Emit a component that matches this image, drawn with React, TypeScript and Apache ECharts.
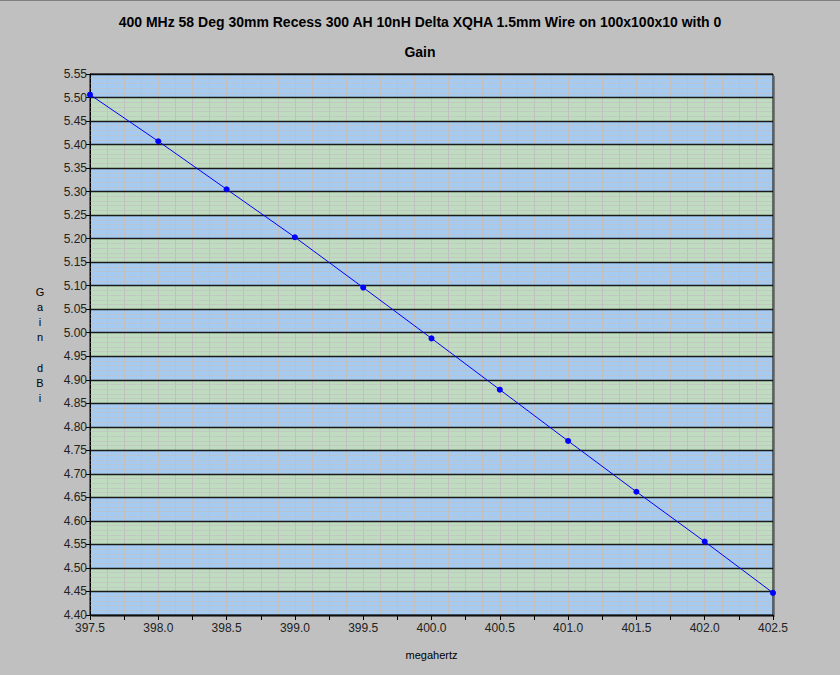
import React, { useEffect, useRef } from "react";
import * as echarts from "echarts";

const TITLE_LINE_1 = "400 MHz 58 Deg 30mm Recess 300 AH 10nH Delta XQHA 1.5mm Wire on 100x100x10 with 0";
const TITLE_LINE_2 = "Gain";
const X_NAME = "megahertz";
const Y_NAME = "G\na\ni\nn\n\nd\nB\ni";

const frequencies = [397.5, 398.0, 398.5, 399.0, 399.5, 400.0, 400.5, 401.0, 401.5, 402.0, 402.5];
const gainValues = [5.506, 5.407, 5.305, 5.203, 5.096, 4.988, 4.879, 4.770, 4.662, 4.556, 4.447];

const X_MIN = 397.5;
const X_MAX = 402.5;
const Y_MIN = 4.4;
const Y_MAX = 5.55;
const Y_STEP = 0.05;
const X_STEP = 0.25;

const FONT = "'Liberation Sans', Arial, sans-serif";

export default function App() {
  const ref = useRef<HTMLDivElement>(null);

  useEffect(() => {
    if (!ref.current) return;
    const chart = echarts.init(ref.current, undefined, { renderer: "svg" });
    const data = frequencies.map((f, i) => [f, gainValues[i]]);

    chart.setOption({
      animation: false,
      backgroundColor: "#c0c0c0",
      textStyle: { fontFamily: FONT },
      title: [
        {
          text: TITLE_LINE_1,
          left: "center",
          top: 10,
          textStyle: { fontSize: 14, fontWeight: "bold", color: "#000", fontFamily: FONT },
        },
        {
          text: TITLE_LINE_2,
          left: "center",
          top: 40,
          textStyle: { fontSize: 14, fontWeight: "bold", color: "#000", fontFamily: FONT },
        },
      ],
      grid: {
        left: 90,
        top: 74,
        right: 67,
        bottom: 60,
        show: true,
        borderColor: "#000",
        borderWidth: 1,
        backgroundColor: "transparent",
        z: 3,
      },
      graphic: [
        {
          type: "line",
          shape: { x1: 0, y1: 0.5, x2: 840, y2: 0.5 },
          style: { stroke: "#808080", lineWidth: 1 },
        },
        {
          type: "line",
          shape: { x1: 774.5, y1: 76, x2: 774.5, y2: 616.5 },
          style: { stroke: "#7a7a7a", lineWidth: 1 },
        },
        {
          type: "line",
          shape: { x1: 92, y1: 616.5, x2: 775, y2: 616.5 },
          style: { stroke: "#7a7a7a", lineWidth: 1 },
        },
        {
          type: "text",
          x: 40,
          y: 284,
          style: {
            text: Y_NAME,
            fontSize: 11,
            fontFamily: FONT,
            fill: "#000",
            align: "center",
            verticalAlign: "top",
            lineHeight: 15.2,
          },
        },
      ],
      xAxis: {
        type: "value",
        min: X_MIN,
        max: X_MAX,
        interval: X_STEP,
        z: 1,
        name: X_NAME,
        nameLocation: "middle",
        nameGap: 34,
        nameTextStyle: { fontSize: 11, color: "#000", fontFamily: FONT },
        axisLine: { show: true, onZero: false, lineStyle: { color: "#000", width: 1 } },
        axisTick: { show: true, length: 5, lineStyle: { color: "#000" } },
        axisLabel: {
          fontSize: 12,
          color: "#222",
          margin: 7,
          fontFamily: FONT,
          formatter: (v: number) =>
            Math.abs(v * 2 - Math.round(v * 2)) < 1e-6 ? v.toFixed(1) : "",
        },
        splitLine: {
          show: true,
          showMinLine: false,
          showMaxLine: false,
          lineStyle: { color: "#c0c0c0", width: 1 },
        },
        minorTick: { show: false, splitNumber: 2 },
        minorSplitLine: { show: true, lineStyle: { color: "#c0c0c0", width: 1 } },
      },
      yAxis: [
        {
          type: "value",
          min: Y_MIN,
          max: Y_MAX,
          interval: Y_STEP,
          z: 0,
          axisLine: { show: true, lineStyle: { color: "#000", width: 1 } },
          axisTick: { show: true, length: 4, lineStyle: { color: "#000" } },
          axisLabel: {
            fontSize: 12,
            color: "#222",
            margin: 3,
            fontFamily: FONT,
            formatter: (v: number) => v.toFixed(2),
          },
          splitLine: { show: false },
          splitArea: {
            show: true,
            areaStyle: { color: ["#a6caf0", "#c0dcc0"] },
          },
        },
        {
          type: "value",
          min: Y_MIN,
          max: Y_MAX,
          interval: Y_STEP,
          z: 2,
          position: "left",
          axisLine: { show: false },
          axisTick: { show: false },
          axisLabel: { show: false },
          splitArea: { show: false },
          splitLine: { show: true, lineStyle: { color: "#1a1a1a", width: 1.3 } },
          minorTick: { show: false, splitNumber: 5 },
          minorSplitLine: { show: true, lineStyle: { color: "rgba(192,192,192,0.65)", width: 1 } },
        },
      ],
      series: [
        {
          type: "line",
          data,
          yAxisIndex: 0,
          z: 5,
          clip: false,
          symbol: "circle",
          symbolSize: 6,
          showSymbol: true,
          itemStyle: { color: "#0000ff" },
          lineStyle: { color: "#0000ff", width: 1 },
        },
      ],
    });

    return () => chart.dispose();
  }, []);

  return (
    <div
      ref={ref}
      style={{ position: "fixed", left: 0, top: 0, width: 840, height: 675 }}
    />
  );
}
